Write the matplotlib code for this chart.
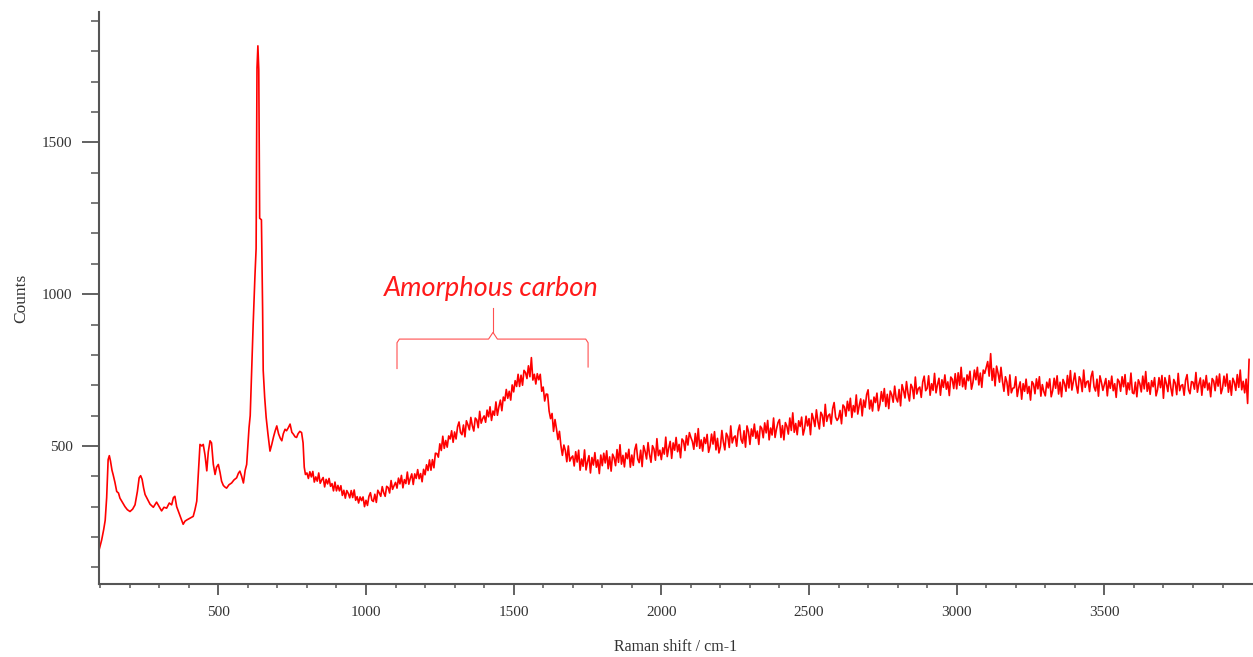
import numpy as np
import matplotlib
matplotlib.use('Agg')
import matplotlib.pyplot as plt
from matplotlib.ticker import MultipleLocator, FixedLocator

# Raman spectrum, low-shift part read point by point (cm-1, counts)
shift_low = [97, 105, 112, 117, 122, 127, 131, 135, 140, 144, 150, 156, 162, 167,
             175, 184, 192, 201, 210, 218, 226, 232, 237, 242, 247, 252, 260, 269,
             280, 291, 300, 308, 316, 325, 334, 342, 348, 353, 359, 365, 373, 381,
             387, 393, 404, 415, 421, 427, 433, 438, 444, 449, 455, 461, 466, 472,
             477, 483, 489, 494, 500, 506, 511, 517, 522, 528, 536, 545, 553, 562,
             568, 573, 579, 585, 591, 596, 600, 604, 608, 613, 618, 624, 628, 631,
             634, 637, 640, 646, 650, 652, 657, 662, 668, 675, 681, 687, 692, 698,
             704, 710, 715, 720, 726, 731, 737, 743, 749, 754, 760, 765, 770, 776,
             782, 787, 791, 795]
counts_low = [160, 190, 225, 255, 330, 455, 468, 450, 420, 405, 380, 350, 345, 328,
              315, 300, 290, 284, 292, 306, 350, 395, 402, 390, 362, 340, 325, 308,
              298, 315, 300, 286, 298, 295, 312, 306, 330, 334, 300, 284, 262, 242,
              252, 256, 262, 268, 290, 318, 420, 505, 500, 505, 470, 418, 480, 517,
              510, 440, 406, 430, 439, 412, 384, 370, 365, 361, 372, 378, 388, 395,
              410, 417, 400, 378, 420, 439, 500, 560, 600, 749, 900, 1059, 1150, 1745,
              1818, 1740, 1250, 1245, 950, 749, 660, 594, 540, 483, 505, 530, 548, 566,
              540, 525, 517, 540, 555, 550, 560, 572, 545, 539, 530, 528, 540, 548,
              544, 510, 430, 406]

# high-shift part, one row per 100 cm-1, step 5 cm-1 from 800 to 3990
shift_high = np.arange(800, 3991, 5)
counts_high = [
    411, 393, 415, 398, 416, 381, 398, 384, 411, 377, 388, 396, 365, 390, 375, 393, 367, 376, 352, 381,
    352, 370, 352, 369, 337, 354, 328, 353, 344, 329, 353, 330, 355, 321, 333, 312, 332, 320, 332, 300,
    321, 304, 334, 346, 321, 317, 341, 314, 354, 345, 334, 366, 346, 334, 367, 363, 345, 386, 357, 369,
    380, 361, 394, 375, 403, 362, 389, 376, 414, 374, 393, 408, 373, 408, 393, 422, 392, 409, 382, 423,
    405, 438, 419, 454, 420, 455, 428, 476, 475, 463, 507, 485, 532, 492, 518, 496, 533, 523, 550, 512,
    546, 523, 563, 579, 544, 537, 569, 530, 583, 570, 553, 594, 567, 549, 592, 586, 560, 614, 575, 590,
    599, 578, 618, 596, 629, 584, 615, 601, 645, 601, 629, 651, 616, 661, 649, 686, 657, 680, 651, 701,
    678, 715, 696, 736, 696, 733, 700, 749, 742, 722, 764, 728, 791, 717, 736, 704, 738, 718, 736, 680,
    694, 648, 671, 670, 615, 590, 607, 548, 587, 556, 521, 548, 501, 469, 503, 485, 448, 500, 450, 461,
    467, 434, 481, 447, 486, 420, 457, 433, 487, 421, 448, 468, 411, 462, 437, 478, 430, 454, 409, 470,
    435, 476, 444, 484, 425, 464, 417, 473, 461, 435, 488, 446, 504, 440, 469, 431, 477, 458, 489, 430,
    470, 436, 487, 506, 457, 445, 486, 432, 501, 482, 457, 511, 472, 446, 501, 490, 453, 524, 468, 486,
    455, 494, 473, 529, 465, 493, 515, 459, 510, 486, 528, 481, 505, 461, 523, 516, 485, 534, 503, 544,
    528, 515, 489, 541, 499, 557, 492, 520, 483, 528, 508, 538, 479, 499, 539, 506, 547, 487, 525, 477,
    497, 551, 513, 487, 542, 531, 495, 566, 510, 528, 533, 499, 550, 569, 521, 509, 550, 496, 566, 547,
    505, 556, 532, 572, 525, 549, 505, 565, 558, 527, 576, 543, 584, 520, 559, 536, 592, 528, 556, 577,
    587, 528, 567, 520, 577, 565, 539, 592, 551, 609, 545, 574, 537, 583, 564, 595, 536, 557, 598, 566,
    590, 537, 607, 589, 564, 619, 581, 556, 611, 601, 565, 637, 581, 600, 605, 572, 623, 643, 595, 584,
    592, 617, 573, 635, 628, 598, 647, 616, 657, 594, 633, 612, 668, 605, 633, 655, 599, 651, 627, 669,
    685, 622, 651, 615, 661, 643, 674, 616, 637, 679, 647, 689, 630, 670, 623, 681, 669, 644, 697, 657,
    645, 686, 632, 702, 683, 658, 712, 674, 648, 703, 692, 656, 727, 671, 689, 694, 660, 711, 730, 682,
    690, 731, 667, 705, 683, 739, 675, 702, 723, 667, 718, 693, 734, 687, 711, 666, 727, 720, 689, 738,
    688, 741, 700, 759, 695, 724, 687, 734, 715, 746, 687, 709, 750, 718, 759, 701, 740, 693, 750, 739,
    758, 778, 730, 804, 716, 755, 698, 763, 740, 710, 759, 713, 680, 728, 710, 667, 734, 675, 690, 692,
    728, 663, 691, 711, 654, 705, 680, 720, 673, 696, 651, 712, 704, 672, 721, 688, 728, 664, 702, 679,
    665, 710, 691, 721, 662, 682, 723, 690, 731, 671, 710, 662, 719, 706, 680, 732, 691, 748, 684, 712,
    740, 700, 674, 728, 717, 679, 750, 693, 711, 714, 679, 728, 746, 695, 681, 720, 664, 731, 710, 683,
    702, 722, 665, 715, 690, 730, 682, 705, 660, 720, 712, 680, 728, 695, 735, 670, 708, 685, 740, 675,
    672, 710, 662, 718, 705, 678, 730, 688, 745, 680, 708, 670, 715, 695, 725, 665, 685, 725, 692, 732,
    657, 725, 705, 679, 732, 692, 665, 719, 707, 669, 739, 682, 699, 702, 667, 717, 735, 685, 672, 712,
    710, 687, 742, 677, 704, 724, 667, 717, 692, 732, 684, 707, 662, 722, 714, 682, 730, 697, 737, 672,
    690, 730, 697, 737, 677, 715, 667, 723, 710, 683, 735, 693, 750, 685, 713, 675, 720, 640, 785,
]

x_major = [500, 1000, 1500, 2000, 2500, 3000, 3500]
y_major = [500, 1000, 1500]

# bracket over the amorphous carbon band
brace_left, brace_mid, brace_right = 1105, 1430, 1752
brace_y, brace_top, brace_foot = 852, 955, 755

shift = np.concatenate([shift_low, shift_high])
counts = np.concatenate([counts_low, counts_high])

fig = plt.figure(figsize=(12.53, 6.57), dpi=100)
ax = fig.add_axes([0.079, 0.111, 0.920, 0.871])

ax.plot(shift, counts, color='#ff0000', linewidth=1.2)

# curly bracket + label
bx = [brace_left, brace_left, brace_left + 8, brace_mid - 15, brace_mid, brace_mid + 15,
      brace_right - 8, brace_right, brace_right]
by = [brace_foot, brace_y - 12, brace_y, brace_y, brace_y + 22, brace_y, brace_y,
      brace_y - 12, brace_foot + 5]
ax.plot(bx, by, color='#ff5050', linewidth=0.8)
ax.plot([brace_mid, brace_mid], [brace_y + 22, brace_top], color='#ff5050', linewidth=0.8)
ax.text(brace_mid - 5, 1018, 'Amorphous carbon', color='#ff1a1a', fontsize=19.5,
        family='Lato', style='italic', ha='center', va='center')

ax.set_xlim(96, 3999)
ax.set_ylim(45, 1930)

for s in ['top', 'right']:
    ax.spines[s].set_visible(False)
for s in ['left', 'bottom']:
    ax.spines[s].set_color('#555555')
    ax.spines[s].set_linewidth(1.5)

ax.xaxis.set_major_locator(FixedLocator(x_major))
ax.xaxis.set_minor_locator(MultipleLocator(100))
ax.yaxis.set_major_locator(FixedLocator(y_major))
ax.yaxis.set_minor_locator(MultipleLocator(100))

ax.tick_params(axis='y', which='major', length=12, width=1.3, color='#555555', pad=7)
ax.tick_params(axis='y', which='minor', length=6, width=1.1, color='#555555')
ax.tick_params(axis='x', which='major', length=8, width=1.3, color='#555555', pad=8)
ax.tick_params(axis='x', which='minor', length=3, width=1.1, color='#555555')
ax.tick_params(labelsize=11, labelcolor='#333333')
for lab in ax.get_xticklabels() + ax.get_yticklabels():
    lab.set_family('Liberation Serif')

ax.set_xlabel('Raman shift / cm-1', family='Liberation Serif', fontsize=11.5,
              color='#333333', labelpad=14)
ax.set_ylabel('Counts', family='Liberation Serif', fontsize=12.5,
              color='#333333', labelpad=9)

fig.savefig('out.png', dpi=100)
